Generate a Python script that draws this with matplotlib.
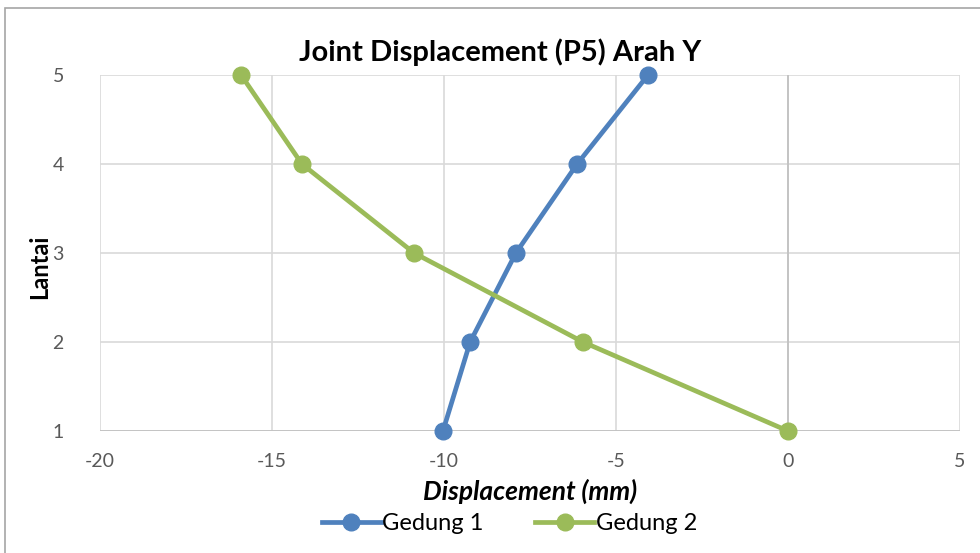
import matplotlib
matplotlib.use("Agg")
import matplotlib.pyplot as plt
from matplotlib.patches import Rectangle

plt.rcParams['font.family'] = ['Lato', 'DejaVu Sans']
plt.rcParams['axes.unicode_minus'] = False

# Data
lantai = [1, 2, 3, 4, 5]
gedung1 = [-10.03, -9.24, -7.91, -6.13, -4.07]
gedung2 = [0.0, -5.96, -10.87, -14.13, -15.9]

xticks = [-20, -15, -10, -5, 0, 5]
yticks = [1, 2, 3, 4, 5]

blue = '#4F81BD'
green = '#9BBB59'
grid_c = '#D9D9D9'
text_c = '#595959'

fig = plt.figure(figsize=(9.8, 5.53), dpi=100)
ax = fig.add_axes([100 / 980, 1 - 431 / 553, 860 / 980, 356 / 553])

# outer chart border
fig.patches.append(Rectangle((5 / 980, -0.1), 1.2, 1 - 8 / 553 + 0.1,
                             transform=fig.transFigure, fill=False,
                             edgecolor='#A6A6A6', linewidth=1.2))

ax.plot(gedung1, lantai, color=blue, lw=3.4, marker='o', ms=12,
        label='Gedung 1', zorder=3, clip_on=False)
ax.plot(gedung2, lantai, color=green, lw=3.4, marker='o', ms=12,
        label='Gedung 2', zorder=3, clip_on=False)

ax.set_xlim(-20, 5)
ax.set_ylim(1, 5)
ax.set_xticks(xticks)
ax.set_yticks(yticks)
ax.grid(True, color=grid_c, lw=1.2)
ax.set_axisbelow(True)
for s in ax.spines.values():
    s.set_visible(False)
# value axis crossing at x = 0 and category axis at y = 1
ax.axvline(0, color='#BFBFBF', lw=1.2, zorder=1)
ax.axhline(1, color='#BFBFBF', lw=1.2, zorder=1)

ax.tick_params(length=0, labelsize=14, colors=text_c)
ax.tick_params(axis='x', pad=16)
ax.tick_params(axis='y', pad=26)

ax.set_title('Joint Displacement (P5) Arah Y', fontsize=21, fontweight='bold',
             x=0.465, pad=10)
ax.set_xlabel('Displacement (mm)', fontsize=19, fontweight='bold',
              style='italic', labelpad=6)
ax.set_ylabel('Lantai', fontsize=17, fontweight='bold')
ax.yaxis.set_label_coords(-0.057, 0.46)

ax.legend(loc='center', bbox_to_anchor=(0.476, (553 - 524 - 122) / 356), ncol=2,
          frameon=False, fontsize=17, handlelength=2.5, handletextpad=0.05,
          columnspacing=2.2, borderpad=0)

fig.savefig('out.png', dpi=100)
